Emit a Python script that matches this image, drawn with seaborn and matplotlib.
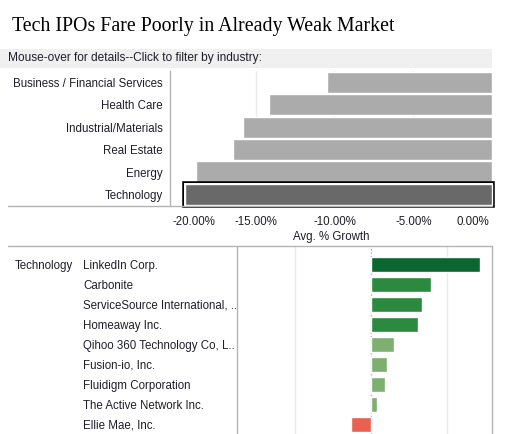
import numpy as np
import pandas as pd
import seaborn as sns
import matplotlib.pyplot as plt
import matplotlib.patheffects as pe
from matplotlib.lines import Line2D
from matplotlib.patches import Rectangle
from matplotlib import transforms

# donnees du panneau du haut : croissance moyenne par industrie (%)
industries = ['Business / Financial Services', 'Health Care', 'Industrial/Materials',
              'Real Estate', 'Energy', 'Technology']
avg_growth = [-10.48, -14.15, -15.8, -16.45, -18.78, -19.5]

# donnees du panneau du bas : IPO technologie
companies = ['LinkedIn Corp.', 'Carbonite', 'ServiceSource International, ..',
             'Homeaway Inc.', 'Qihoo 360 Technology Co, L..', 'Fusion-io, Inc.',
             'Fluidigm Corporation', 'The Active Network Inc.', 'Ellie Mae, Inc.']
company_growth = [0.72, 0.395, 0.336, 0.31, 0.152, 0.105, 0.092, 0.04, -0.132]

W, H = 517, 434
txt = '#1e1e2a'
axis_col = '#b4b4b4'
grid_col = '#ebebeb'
fs = 8.3

sns.set_style('white')
plt.rcParams['font.family'] = ['Liberation Sans', 'DejaVu Sans']
plt.rcParams['font.size'] = fs

fig = plt.figure(figsize=(W / 100, H / 100), dpi=100)

def fx(px):
    return px / W

def fy(py):
    return 1 - py / H

# titre
fig.text(fx(12), fy(27), 'Tech IPOs Fare Poorly in Already Weak Market',
         family='Liberation Serif', fontsize=14.3, color='black', va='center', ha='left')

# bandeau gris
fig.patches.append(Rectangle((0, fy(67.7)), fx(492), fy(49) - fy(67.7),
                             transform=fig.transFigure, facecolor='#f0f0f0',
                             edgecolor='none', zorder=0))
fig.text(fx(8), fy(58.5), 'Mouse-over for details--Click to filter by industry:',
         fontsize=8.6, color=txt, va='center', ha='left')

# ---- panneau du haut
ax1 = fig.add_axes([fx(169.7), fy(205.7), fx(492.3 - 169.7), fy(71) - fy(205.7)])
df1 = pd.DataFrame({'industry': industries, 'growth': avg_growth})
pal1 = {k: '#ababab' for k in industries}
pal1['Technology'] = '#696969'
sns.barplot(data=df1, x='growth', y='industry', hue='industry', palette=pal1,
            legend=False, saturation=1, width=0.94, orient='h', ax=ax1)
ax1.set_ylim(5.5, -0.5)
ax1.set_xlim(-20.44, 0)
ax1.set_xticks([-20, -15, -10, -5, 0])
ax1.set_xticklabels(['%.2f%%' % v for v in [-20, -15, -10, -5, 0]])
ax1.set_axisbelow(True)
ax1.grid(axis='x', color=grid_col, lw=1)
ax1.get_xgridlines()[0].set_visible(False)
ax1.set_ylabel('')
ax1.set_xlabel('Avg. % Growth', color=txt, fontsize=fs, labelpad=2)
ax1.tick_params(axis='y', length=0, pad=5, colors=txt, labelsize=fs)
ax1.tick_params(axis='x', length=2.3, width=0.8, color=axis_col, pad=5,
                labelcolor=txt, labelsize=fs)
for s in ['top', 'right', 'bottom']:
    ax1.spines[s].set_visible(False)
ax1.spines['left'].set_color(axis_col)
ax1.spines['left'].set_linewidth(1)
labs = ax1.get_xticklabels()
labs[0].set_ha('left')
labs[0].set_transform(labs[0].get_transform() +
                      transforms.ScaledTranslation(-4 / 100, 0, fig.dpi_scale_trans))
labs[-1].set_ha('right')
labs[-1].set_transform(labs[-1].get_transform() +
                       transforms.ScaledTranslation(-3 / 100, 0, fig.dpi_scale_trans))

# contour de la barre selectionnee
tech_bar = ax1.patches[industries.index('Technology')]
tech_bar.set_clip_on(False)
tech_bar.set_path_effects([pe.Stroke(linewidth=4.0, foreground='black'),
                           pe.Stroke(linewidth=1.4, foreground='white'),
                           pe.Normal()])

fig.add_artist(Line2D([fx(8), fx(492.3)], [fy(205.7), fy(205.7)],
                      transform=fig.transFigure, color=axis_col, lw=1))

# ---- panneau du bas
ax2 = fig.add_axes([fx(237.3), 0, fx(492.3 - 237.3), fy(246)])
df2 = pd.DataFrame({'company': companies, 'growth': company_growth})
steps = ['#e8604f', '#7daf6e', '#2b8a3f', '#0b6630']
pal2 = {c: steps[int(np.digitize(v, [0, 0.25, 0.5]))]
        for c, v in zip(companies, company_growth)}
sns.barplot(data=df2, x='growth', y='company', hue='company', palette=pal2,
            legend=False, saturation=1, width=0.735, orient='h', ax=ax2)
ax2.set_ylim(8.485, -0.915)
ax2.set_xlim(-0.882, 0.80)
ax2.set_xticks([-0.5, 0, 0.5])
ax2.set_axisbelow(True)
ax2.grid(axis='x', color=grid_col, lw=1)
ax2.get_xgridlines()[1].set_color('#b4b4b4')
ax2.get_xgridlines()[1].set_linestyle((0, (1, 1.5)))
ax2.tick_params(axis='x', length=0, labelbottom=False)
ax2.set_xlabel('')
ax2.set_ylabel('')
ax2.tick_params(axis='y', length=0, pad=110.9, colors=txt, labelsize=fs)
for lab in ax2.get_yticklabels():
    lab.set_ha('left')
ax2.spines['bottom'].set_visible(False)
for s in ['top', 'left', 'right']:
    ax2.spines[s].set_color(axis_col)
    ax2.spines[s].set_linewidth(1)
ax2.spines['top'].set_visible(False)

fig.add_artist(Line2D([fx(8), fx(492.3)], [fy(246), fy(246)],
                      transform=fig.transFigure, color=axis_col, lw=1))
bt = transforms.blended_transform_factory(fig.transFigure, ax2.transData)
ax2.text(fx(15), 0, 'Technology', transform=bt, fontsize=fs, color=txt,
         va='center_baseline', ha='left')

fig.savefig('out.png', dpi=100)
